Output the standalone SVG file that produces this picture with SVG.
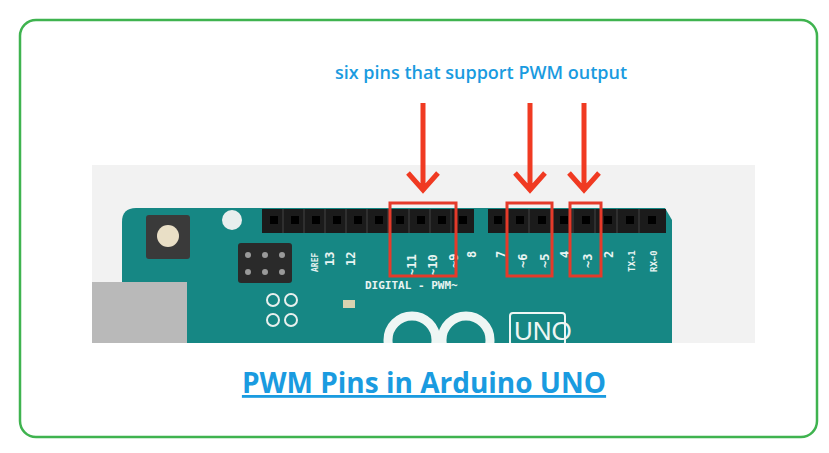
<svg xmlns="http://www.w3.org/2000/svg" width="829" height="453" viewBox="0 0 829 453">
<defs>
<style>
.hole{fill:#000}
.lbl{font-family:"DejaVu Sans Mono",monospace;font-size:12px;fill:#e8f4f2;font-weight:bold}
.box{fill:none;stroke:#e53a2a;stroke-width:3}
.arr{stroke:#f03a22;stroke-width:5;fill:none}
</style>
<clipPath id="ph"><rect x="92" y="165" width="663" height="178"/></clipPath>
</defs>
<rect width="829" height="453" fill="#fff"/>
<rect x="20" y="20" width="797" height="417" rx="16" fill="#fff" stroke="#3fb34f" stroke-width="2.5"/>
<g id="photo" clip-path="url(#ph)">
<rect x="92" y="165" width="663" height="178" fill="#f2f2f2"/>
<path d="M122 222 Q122 208 136 208 L665 208 L672 220 L672 343 L122 343 Z" fill="#168784"/>
<rect x="92" y="282" width="95" height="61" fill="#b9b9b9"/>
<rect x="146" y="215" width="44" height="44" rx="3" fill="#3a3a3a"/>
<circle cx="168" cy="236" r="11" fill="#e9dfc6"/>
<circle cx="232" cy="220" r="10" fill="#e8eeee"/>
<rect x="238" y="243" width="54" height="40" rx="3" fill="#2a2a2a"/>
<g fill="#9a9a9a"><circle cx="248" cy="255" r="3"/><circle cx="265" cy="255" r="3"/><circle cx="282" cy="255" r="3"/><circle cx="248" cy="272" r="3"/><circle cx="265" cy="272" r="3"/><circle cx="282" cy="272" r="3"/></g>
<circle cx="273" cy="300" r="6" fill="none" stroke="#e8f0ee" stroke-width="2"/>
<circle cx="291" cy="300" r="6" fill="none" stroke="#e8f0ee" stroke-width="2"/>
<circle cx="273" cy="320" r="6" fill="none" stroke="#e8f0ee" stroke-width="2"/>
<circle cx="291" cy="320" r="6" fill="none" stroke="#e8f0ee" stroke-width="2"/>
<rect x="343" y="300" width="12" height="8" fill="#d9d2b0"/>
<rect x="262" y="209" width="212" height="24" fill="#1b1b1b"/>
<rect x="488" y="209" width="178" height="24" fill="#1b1b1b"/>
<g class="hole">
<rect x="270" y="216" width="8" height="8"/><rect x="291" y="216" width="8" height="8"/><rect x="312" y="216" width="8" height="8"/><rect x="333" y="216" width="8" height="8"/><rect x="354" y="216" width="8" height="8"/><rect x="375" y="216" width="8" height="8"/><rect x="396" y="216" width="8" height="8"/><rect x="417" y="216" width="8" height="8"/><rect x="438" y="216" width="8" height="8"/><rect x="459" y="216" width="8" height="8"/>
<rect x="494" y="216" width="8" height="8"/><rect x="516" y="216" width="8" height="8"/><rect x="538" y="216" width="8" height="8"/><rect x="560" y="216" width="8" height="8"/><rect x="582" y="216" width="8" height="8"/><rect x="604" y="216" width="8" height="8"/><rect x="626" y="216" width="8" height="8"/><rect x="648" y="216" width="8" height="8"/>
</g>
<g stroke="#444" stroke-width="1">
<path d="M283 209V233M304 209V233M325 209V233M346 209V233M367 209V233M388 209V233M409 209V233M430 209V233M451 209V233M507 209V233M529 209V233M551 209V233M573 209V233M595 209V233M617 209V233M639 209V233"/>
</g>
<g class="lbl">
<text transform="translate(334,266) rotate(-90)">13</text>
<text transform="translate(355,266) rotate(-90)">12</text>
<text transform="translate(318,272) rotate(-90)" font-size="8">AREF</text>
<text transform="translate(416,276) rotate(-90)">~11</text>
<text transform="translate(437,276) rotate(-90)">~10</text>
<text transform="translate(458,268) rotate(-90)">~9</text>
<text transform="translate(476,258) rotate(-90)">8</text>
<text transform="translate(505,258) rotate(-90)">7</text>
<text transform="translate(527,268) rotate(-90)">~6</text>
<text transform="translate(549,268) rotate(-90)">~5</text>
<text transform="translate(569,258) rotate(-90)">4</text>
<text transform="translate(592,268) rotate(-90)">~3</text>
<text transform="translate(613,258) rotate(-90)">2</text>
<text transform="translate(635,272) rotate(-90)" font-size="9">TX→1</text>
<text transform="translate(657,272) rotate(-90)" font-size="9">RX←0</text>
<text x="365" y="289" font-size="11" fill="#e8f4f2">DIGITAL - PWM~</text>
</g>
<circle cx="412" cy="340" r="24" fill="none" stroke="#eef6f4" stroke-width="9"/>
<circle cx="466" cy="340" r="24" fill="none" stroke="#eef6f4" stroke-width="9"/>
<rect x="510" y="313" width="55" height="32" rx="3" fill="none" stroke="#eef6f4" stroke-width="2"/>
<text x="514" y="340" font-family="Liberation Sans,sans-serif" font-size="26" fill="#eef6f4">UNO</text>
</g>
<g class="box">
<rect x="390" y="203" width="66" height="73"/>
<rect x="507" y="203" width="45" height="73"/>
<rect x="570" y="203" width="31" height="73"/>
</g>
<g class="arr">
<path d="M423 103V190M408 173L423 190L438 173"/>
<path d="M530 103V190M515 173L530 190L545 173"/>
<path d="M584 103V190M569 173L584 190L599 173"/>
</g>
<text x="481" y="79" text-anchor="middle" font-family="Open Sans,sans-serif" font-weight="600" font-size="18" fill="#1a9be0">six pins that support PWM output</text>
<text x="424" y="393" text-anchor="middle" font-family="Open Sans,sans-serif" font-weight="bold" font-size="28" fill="#1a9be0" text-decoration="underline">PWM Pins in Arduino UNO</text>
</svg>
